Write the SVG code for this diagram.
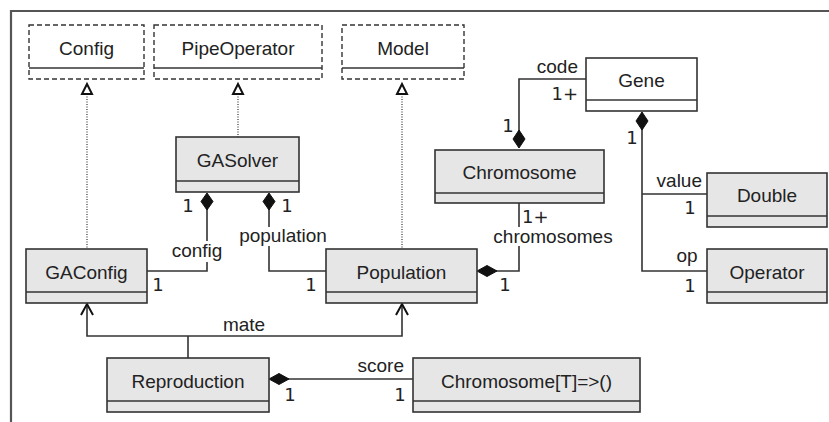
<svg xmlns="http://www.w3.org/2000/svg" width="829" height="422" viewBox="0 0 829 422">
<style>
text{font-family:"Liberation Sans",Arial,sans-serif;font-size:19px;fill:#222}
.c{text-anchor:middle}
.e{text-anchor:end}
.n{font-family:"DejaVu Sans","Liberation Sans",sans-serif;font-size:18px}
.box{fill:#e6e6e6;stroke:#333;stroke-width:1.6}
.wbox{fill:#fff;stroke:#333;stroke-width:1.6}
.dbox{fill:#fff;stroke:#333;stroke-width:1.4;stroke-dasharray:5,3}
.div{stroke:#333;stroke-width:1.6}
.line{fill:none;stroke:#333;stroke-width:1.6}
.dot{fill:none;stroke:#333;stroke-width:1.2;stroke-dasharray:1,1.5}
.tri{fill:#fff;stroke:#111;stroke-width:2}
.dia{fill:#111;stroke:#111;stroke-width:1}
.open{fill:none;stroke:#111;stroke-width:2}
.bg{fill:#fff}
</style>
<path d="M11,422 V11 H829" fill="none" stroke="#555" stroke-width="2.2"/>
<g id="connectors">
<line class="dot" x1="87" y1="94" x2="87" y2="249"/>
<polygon class="tri" points="82,94 87,84 92,94"/>
<line class="dot" x1="238" y1="94" x2="238" y2="137"/>
<polygon class="tri" points="233,94 238,84 243,94"/>
<line class="dot" x1="402" y1="94" x2="402" y2="249"/>
<polygon class="tri" points="397,94 402,84 407,94"/>
<path class="line" d="M207,208 V271 H147"/>
<polygon class="dia" points="207,193 213,201.5 207,210 201,201.5"/>
<path class="line" d="M269,208 V271 H326"/>
<polygon class="dia" points="269,193 275,201.5 269,210 263,201.5"/>
<path class="line" d="M495,271 H519 V203"/>
<polygon class="dia" points="477,271 487,265.5 497,271 487,276.5"/>
<path class="line" d="M519,132 V79 H586"/>
<polygon class="dia" points="519,130 525,139 519,148 513,139"/>
<path class="line" d="M642,128 V271 H707 M642,194 H707"/>
<polygon class="dia" points="642,112 648,121 642,130 636,121"/>
<path class="line" d="M188,358 V336 M87,305 V336 H402 V305"/>
<polyline class="open" points="81,315 87,304 93,315"/>
<polyline class="open" points="396,315 402,304 408,315"/>
<path class="line" d="M287,379 H413"/>
<polygon class="dia" points="269,379 279,373.5 289,379 279,384.5"/>
<rect class="bg" x="171" y="241" width="53" height="21"/>
<text class="c" x="197" y="257">config</text>
<rect class="bg" x="236" y="227" width="95" height="19"/>
<text class="c" x="283" y="242">population</text>
<rect class="bg" x="489" y="227" width="128" height="19"/>
<text class="c" x="553" y="243">chromosomes</text>
<text class="n c" x="188" y="212">1</text>
<text class="n c" x="287" y="212">1</text>
<text class="n c" x="158" y="291">1</text>
<text class="n c" x="311" y="291">1</text>
<text class="n c" x="505" y="291">1</text>
<text class="n" x="522" y="223">1+</text>
<text class="e" x="578" y="73">code</text>
<text class="n e" x="578" y="100">1+</text>
<text class="n c" x="508" y="132">1</text>
<text class="n c" x="632" y="144">1</text>
<text class="e" x="702" y="187">value</text>
<text class="n c" x="690" y="214">1</text>
<text class="c" x="687" y="262">op</text>
<text class="n c" x="690" y="292">1</text>
<text class="c" x="244" y="331">mate</text>
<text class="e" x="404" y="372">score</text>
<text class="n c" x="290" y="401">1</text>
<text class="n c" x="400" y="401">1</text>
</g>
<g id="Config"><rect class="dbox" x="29" y="25" width="115" height="54"/><line class="div" x1="29" y1="68" x2="144" y2="68"/><text class="c" x="86.5" y="55">Config</text></g>
<g id="PipeOperator"><rect class="dbox" x="154" y="25" width="168" height="54"/><line class="div" x1="154" y1="68" x2="322" y2="68"/><text class="c" x="238" y="55">PipeOperator</text></g>
<g id="Model"><rect class="dbox" x="342" y="25" width="122" height="54"/><line class="div" x1="342" y1="68" x2="464" y2="68"/><text class="c" x="403" y="55">Model</text></g>
<g id="Gene"><rect class="wbox" x="586" y="58" width="111" height="53"/><line class="div" x1="586" y1="100" x2="697" y2="100"/><text class="c" x="641.5" y="87">Gene</text></g>
<g id="GASolver"><rect class="box" x="176" y="137" width="123" height="55"/><line class="div" x1="176" y1="181" x2="299" y2="181"/><text class="c" x="237.5" y="167">GASolver</text></g>
<g id="Chromosome"><rect class="box" x="435" y="150" width="169" height="53"/><line class="div" x1="435" y1="193" x2="604" y2="193"/><text class="c" x="519.5" y="179">Chromosome</text></g>
<g id="Double"><rect class="box" x="707" y="173" width="120" height="54"/><line class="div" x1="707" y1="216" x2="827" y2="216"/><text class="c" x="767" y="202">Double</text></g>
<g id="GAConfig"><rect class="box" x="26" y="249" width="121" height="54"/><line class="div" x1="26" y1="292" x2="147" y2="292"/><text class="c" x="86.5" y="279">GAConfig</text></g>
<g id="Population"><rect class="box" x="326" y="249" width="151" height="54"/><line class="div" x1="326" y1="292" x2="477" y2="292"/><text class="c" x="401.5" y="279">Population</text></g>
<g id="Operator"><rect class="box" x="707" y="249" width="120" height="54"/><line class="div" x1="707" y1="292" x2="827" y2="292"/><text class="c" x="767" y="279">Operator</text></g>
<g id="Reproduction"><rect class="box" x="107" y="358" width="162" height="54"/><line class="div" x1="107" y1="401" x2="269" y2="401"/><text class="c" x="188" y="388">Reproduction</text></g>
<g id="ChromosomeFn"><rect class="box" x="413" y="358" width="227" height="54"/><line class="div" x1="413" y1="401" x2="640" y2="401"/><text class="c" x="526.5" y="388">Chromosome[T]=&gt;()</text></g>
</svg>
